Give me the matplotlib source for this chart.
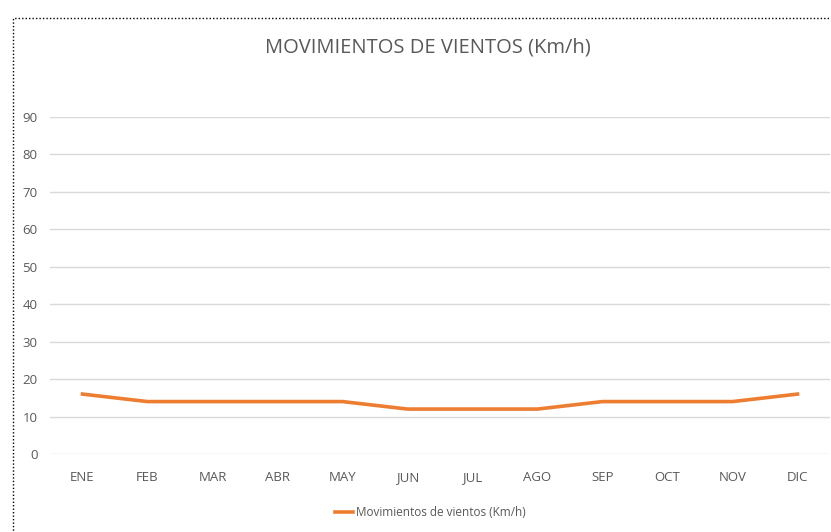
import matplotlib
matplotlib.use('Agg')
import matplotlib.pyplot as plt
from matplotlib.patches import Rectangle

meses = ['ENE', 'FEB', 'MAR', 'ABR', 'MAY', 'JUN', 'JUL', 'AGO', 'SEP', 'OCT', 'NOV', 'DIC']
vientos = [16, 14, 14, 14, 14, 12, 12, 12, 14, 14, 14, 16]
yticks = [0, 10, 20, 30, 40, 50, 60, 70, 80, 90]

plt.rcParams['font.family'] = ['Open Sans', 'DejaVu Sans']

fig = plt.figure(figsize=(8.31, 5.32), dpi=100)
ax = fig.add_axes([50 / 831, 1 - 454 / 532, 780 / 831, (454 - 117) / 532])

x = range(len(meses))
ax.plot(x, vientos, color='#ED7D31', linewidth=2.6, label='Movimientos de vientos (Km/h)')

ax.set_xlim(-0.5, len(meses) - 0.5)
ax.set_ylim(0, 90)
ax.set_yticks(yticks)
ax.set_xticks(list(x))
ax.set_xticklabels(meses)
ax.tick_params(axis='both', length=0, colors='#595959', labelsize=9.5)
ax.tick_params(axis='x', pad=12)
ax.tick_params(axis='y', pad=9)
ax.grid(axis='y', color='#d9d9d9', linewidth=1)
ax.set_axisbelow(True)
for s in ax.spines.values():
    s.set_visible(False)

fig.text(428 / 831, 1 - 47 / 532, 'MOVIMIENTOS DE VIENTOS (Km/h)', ha='center', va='center',
         fontsize=14.5, color='#595959')

fig.legend(loc='center', bbox_to_anchor=(430 / 831, 1 - 513 / 532), frameon=False,
           fontsize=8.5, labelcolor='#595959', handlelength=1.6, handletextpad=0.2)

# dotted frame like the screenshot
fig.patches.append(Rectangle((13 / 831, -0.1), 1.2, 1.1 - 18 / 532, transform=fig.transFigure,
                             fill=False, edgecolor='black', linestyle=(0, (1, 1.5)), linewidth=1))

fig.savefig('out.png', dpi=100)
